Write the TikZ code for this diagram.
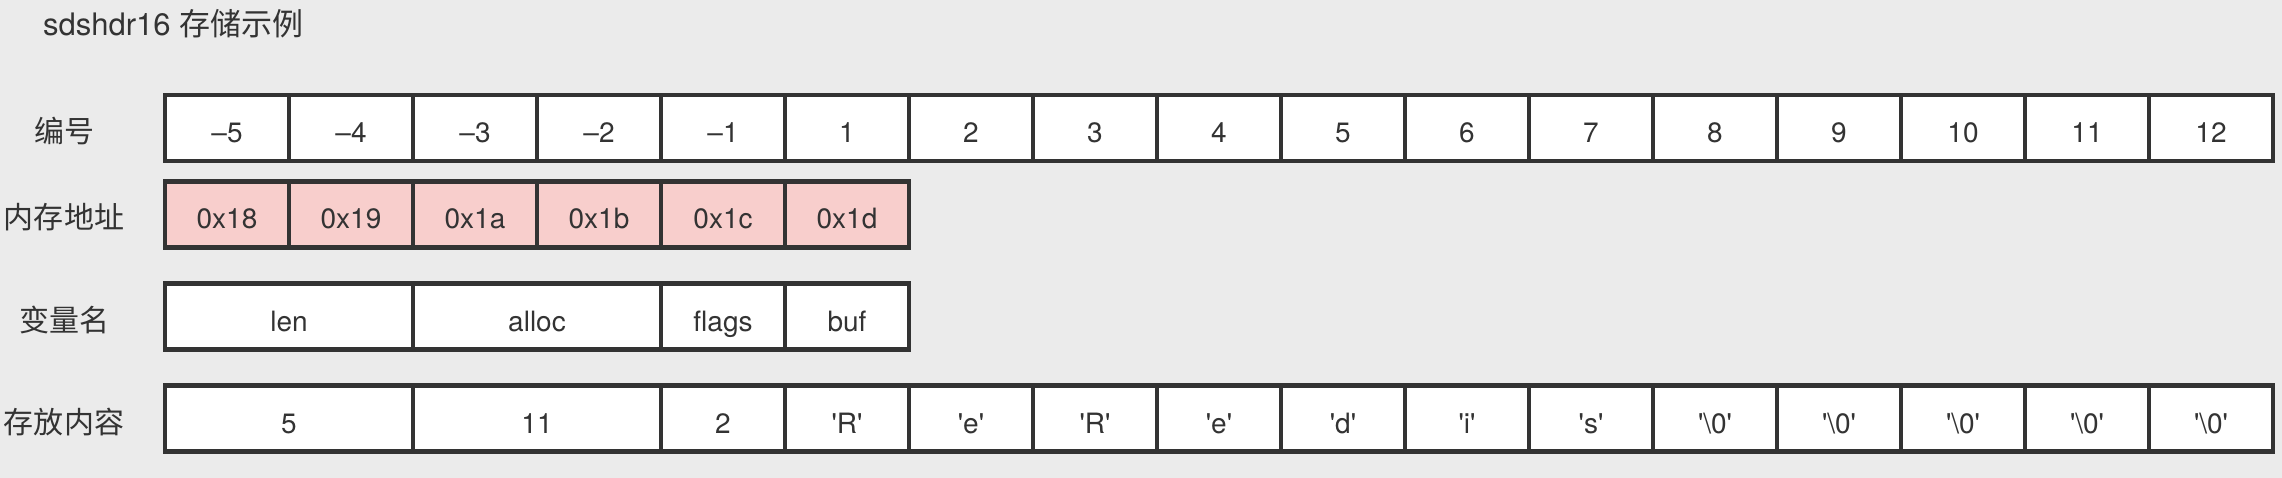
\documentclass[tikz,border=0pt]{standalone}
\usepackage{fontspec}
\setmainfont{TeX Gyre Heros}
\newfontfamily\cjk{Noto Sans CJK SC}
\definecolor{bgc}{HTML}{EBEBEB}
\definecolor{bordc}{HTML}{333333}
\definecolor{txtc}{HTML}{333333}
\definecolor{pinkc}{HTML}{F8CECC}
\newcommand\cellfnt{\fontsize{28}{32}\selectfont}
\newcommand\labfnt{\cjk\fontsize{30}{34}\selectfont}
\newcommand\titlefnt{\fontsize{31}{35}\selectfont}
\newcommand\qc[1]{\textquotesingle#1\textquotesingle}
\begin{document}
\begin{tikzpicture}[x=1pt,y=-1pt,
  cellbox/.style={draw=bordc, line width=4.5pt, fill=white, minimum width=124pt,
    minimum height=66pt, inner sep=0pt, text height=29pt, text depth=0pt,
    font=\cellfnt, text=txtc},
  addrbox/.style={cellbox, fill=pinkc},
  widebox/.style={cellbox, minimum width=248pt},
  lab/.style={font=\labfnt, text=txtc, inner sep=0pt, text height=29pt, text depth=0pt}]
\fill[bgc] (0,0) rectangle (2282,478);
\useasboundingbox (0,0) rectangle (2282,478);
% title
\node[anchor=base west, inner sep=0pt, font=\titlefnt, text=txtc] (title) at (43,36) {sdshdr16 {\cjk 存储示例}};
% row labels
\node[lab] (l1) at (64,128) {编号};
\node[lab] (l2) at (64,214.5) {内存地址};
\node[lab] (l3) at (64,316.5) {变量名};
\node[lab] (l4) at (64,418.5) {存放内容};
% row 1: index
\foreach \t [count=\i from 0] in {–5,–4,–3,–2,–1,1,2,3,4,5,6,7,8,9,10,11,12}
  \node[cellbox] (a\i) at ({227+124*\i},128) {\t};
% row 2: addresses
\foreach \t [count=\i from 0] in {0x18,0x19,0x1a,0x1b,0x1c,0x1d}
  \node[addrbox] (b\i) at ({227+124*\i},214.5) {\t};
% row 3: variable names
\node[widebox] (vlen) at (289,316.5) {len};
\node[widebox] (valloc) at (537,316.5) {alloc};
\node[cellbox] (vflags) at (723,316.5) {flags};
\node[cellbox] (vbuf) at (847,316.5) {buf};
% row 4: contents
\node[widebox] (clen) at (289,418.5) {5};
\node[widebox] (calloc) at (537,418.5) {11};
\node[cellbox] (cflags) at (723,418.5) {2};
\node[cellbox] (c5) at (847,418.5) {\qc{R}};
\node[cellbox] (c6) at (971,418.5) {\qc{e}};
\node[cellbox] (c7) at (1095,418.5) {\qc{R}};
\node[cellbox] (c8) at (1219,418.5) {\qc{e}};
\node[cellbox] (c9) at (1343,418.5) {\qc{d}};
\node[cellbox] (c10) at (1467,418.5) {\qc{i}};
\node[cellbox] (c11) at (1591,418.5) {\qc{s}};
\foreach \i in {12,...,16}
  \node[cellbox] (c\i) at ({227+124*\i},418.5) {\qc{\textbackslash 0}};
\end{tikzpicture}
\end{document}
